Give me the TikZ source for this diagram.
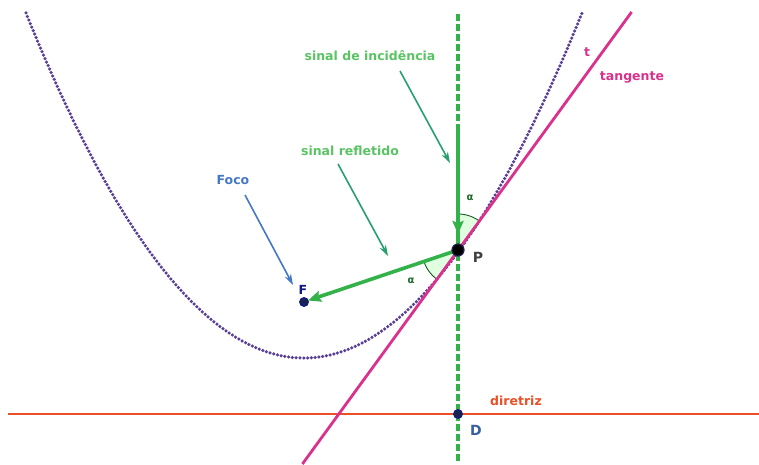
\documentclass[tikz,border=0pt]{standalone}
\usepackage{fontspec}
\setmainfont{DejaVu Sans}
\usetikzlibrary{arrows.meta}
\definecolor{rgreen}{RGB}{52,178,74}
\definecolor{lgreen}{RGB}{90,196,100}
\definecolor{ptr}{RGB}{40,160,110}
\definecolor{tpink}{RGB}{218,50,140}
\definecolor{dred}{RGB}{234,80,40}
\definecolor{ppl}{RGB}{88,62,150}
\definecolor{navy}{RGB}{25,35,80}
\definecolor{fblue}{RGB}{70,120,200}
\tikzset{
  lbl/.style={font=\bfseries\fontsize{12.5}{14}\selectfont, inner sep=0pt},
  glbl/.style={lbl, text=lgreen},
  ray/.style={draw=rgreen, line width=3.6pt},
  raytip/.style={draw=rgreen, line width=3.6pt, -{Stealth[length=13pt,width=11pt,inset=2pt]}},
  pointer/.style={draw=ptr, line width=1.6pt, -{Stealth[length=11pt,width=7pt]}},
  dotpt/.style={circle, fill=navy, draw=navy!60!blue, line width=0.8pt, inner sep=0pt, minimum size=9pt}
}
\begin{document}
\begin{tikzpicture}[x=1pt,y=-1pt]
\useasboundingbox[fill=white] (0,0) rectangle (759,464);
% key points
\coordinate (P) at (458,250);
\coordinate (F) at (304,302);
\coordinate (D) at (458,414);
\coordinate (Vt) at (458,14);
\coordinate (Vb) at (458,464);
\coordinate (Tt) at (631.6,12);
\coordinate (Tb) at (302.4,464);
\coordinate (Dl) at (8,414);
\coordinate (Dr) at (759,414);
\coordinate (Rs) at (458,124);
\coordinate (Rt) at (458,234);
% parabola
\draw[ppl, line width=3.5pt, line cap=round, dash pattern=on 0pt off 3.8pt]
  plot[domain=26:582, samples=300] (\x, {358-((\x-304)/14.9666)^2});
% angle sectors
\fill[green!12] (P) -- plot[domain=54:90, samples=20] ({458+36*cos(\x)}, {250-36*sin(\x)}) -- cycle;
\draw[rgreen!50!black, line width=0.9pt] plot[domain=54:90, samples=20] ({458+36*cos(\x)}, {250-36*sin(\x)});
\fill[green!12] (P) -- plot[domain=198.7:234, samples=20] ({458+36*cos(\x)}, {250-36*sin(\x)}) -- cycle;
\draw[rgreen!50!black, line width=0.9pt] plot[domain=198.7:234, samples=20] ({458+36*cos(\x)}, {250-36*sin(\x)});
% directrix
\draw[dred, line width=2.8pt] (Dl) -- (Dr);
% vertical dashed
\draw[rgreen, line width=3.6pt, dash pattern=on 7pt off 3pt] (Vt) -- (Vb);
% tangent
\draw[tpink, line width=2.8pt] (Tb) -- (Tt);
% rays
\draw[ray] (Rs) -- (P);
\draw[raytip] (Rs) -- (Rt);
\draw[raytip] (P) -- ([shift={(4pt,1.5pt)}]F);
% points
\node[dotpt] (Fn) at (F) {};
\node[dotpt] (Dn) at (D) {};
\node[circle, fill=black, draw=navy, line width=1.2pt, inner sep=0pt, minimum size=12pt] (Pn) at (P) {};
% labels
\node[glbl] (inc) at (370,56) {sinal de incidência};
\node[glbl] (ref) at (350,151) {sinal refletido};
\node[lbl, text=fblue] (foco) at (233,180) {Foco};
\node[lbl, text=navy!70!blue] at (303,290) {F};
\node[lbl, text=black!75, font=\bfseries\fontsize{14}{16}\selectfont] at (478,257) {P};
\node[lbl, text=rgreen!60!black, font=\bfseries\fontsize{10}{12}\selectfont] at (470,198) {α};
\node[lbl, text=rgreen!60!black, font=\bfseries\fontsize{10}{12}\selectfont] at (411,281) {α};
\node[lbl, text=tpink] at (587,52) {t};
\node[lbl, text=tpink] at (632,77) {tangente};
\node[lbl, text=dred] at (516,401) {diretriz};
\node[lbl, text=fblue!80!black, font=\bfseries\fontsize{14}{16}\selectfont] at (476,430) {D};
% pointers
\coordinate (i1) at (400,71);
\coordinate (i2) at (450,163);
\coordinate (r1) at (338,164);
\coordinate (r2) at (388,256);
\coordinate (f1) at (245,195);
\coordinate (f2) at (293,285);
\draw[pointer] (i1) -- (i2);
\draw[pointer] (r1) -- (r2);
\draw[pointer, draw=fblue] (f1) -- (f2);
\end{tikzpicture}
\end{document}
